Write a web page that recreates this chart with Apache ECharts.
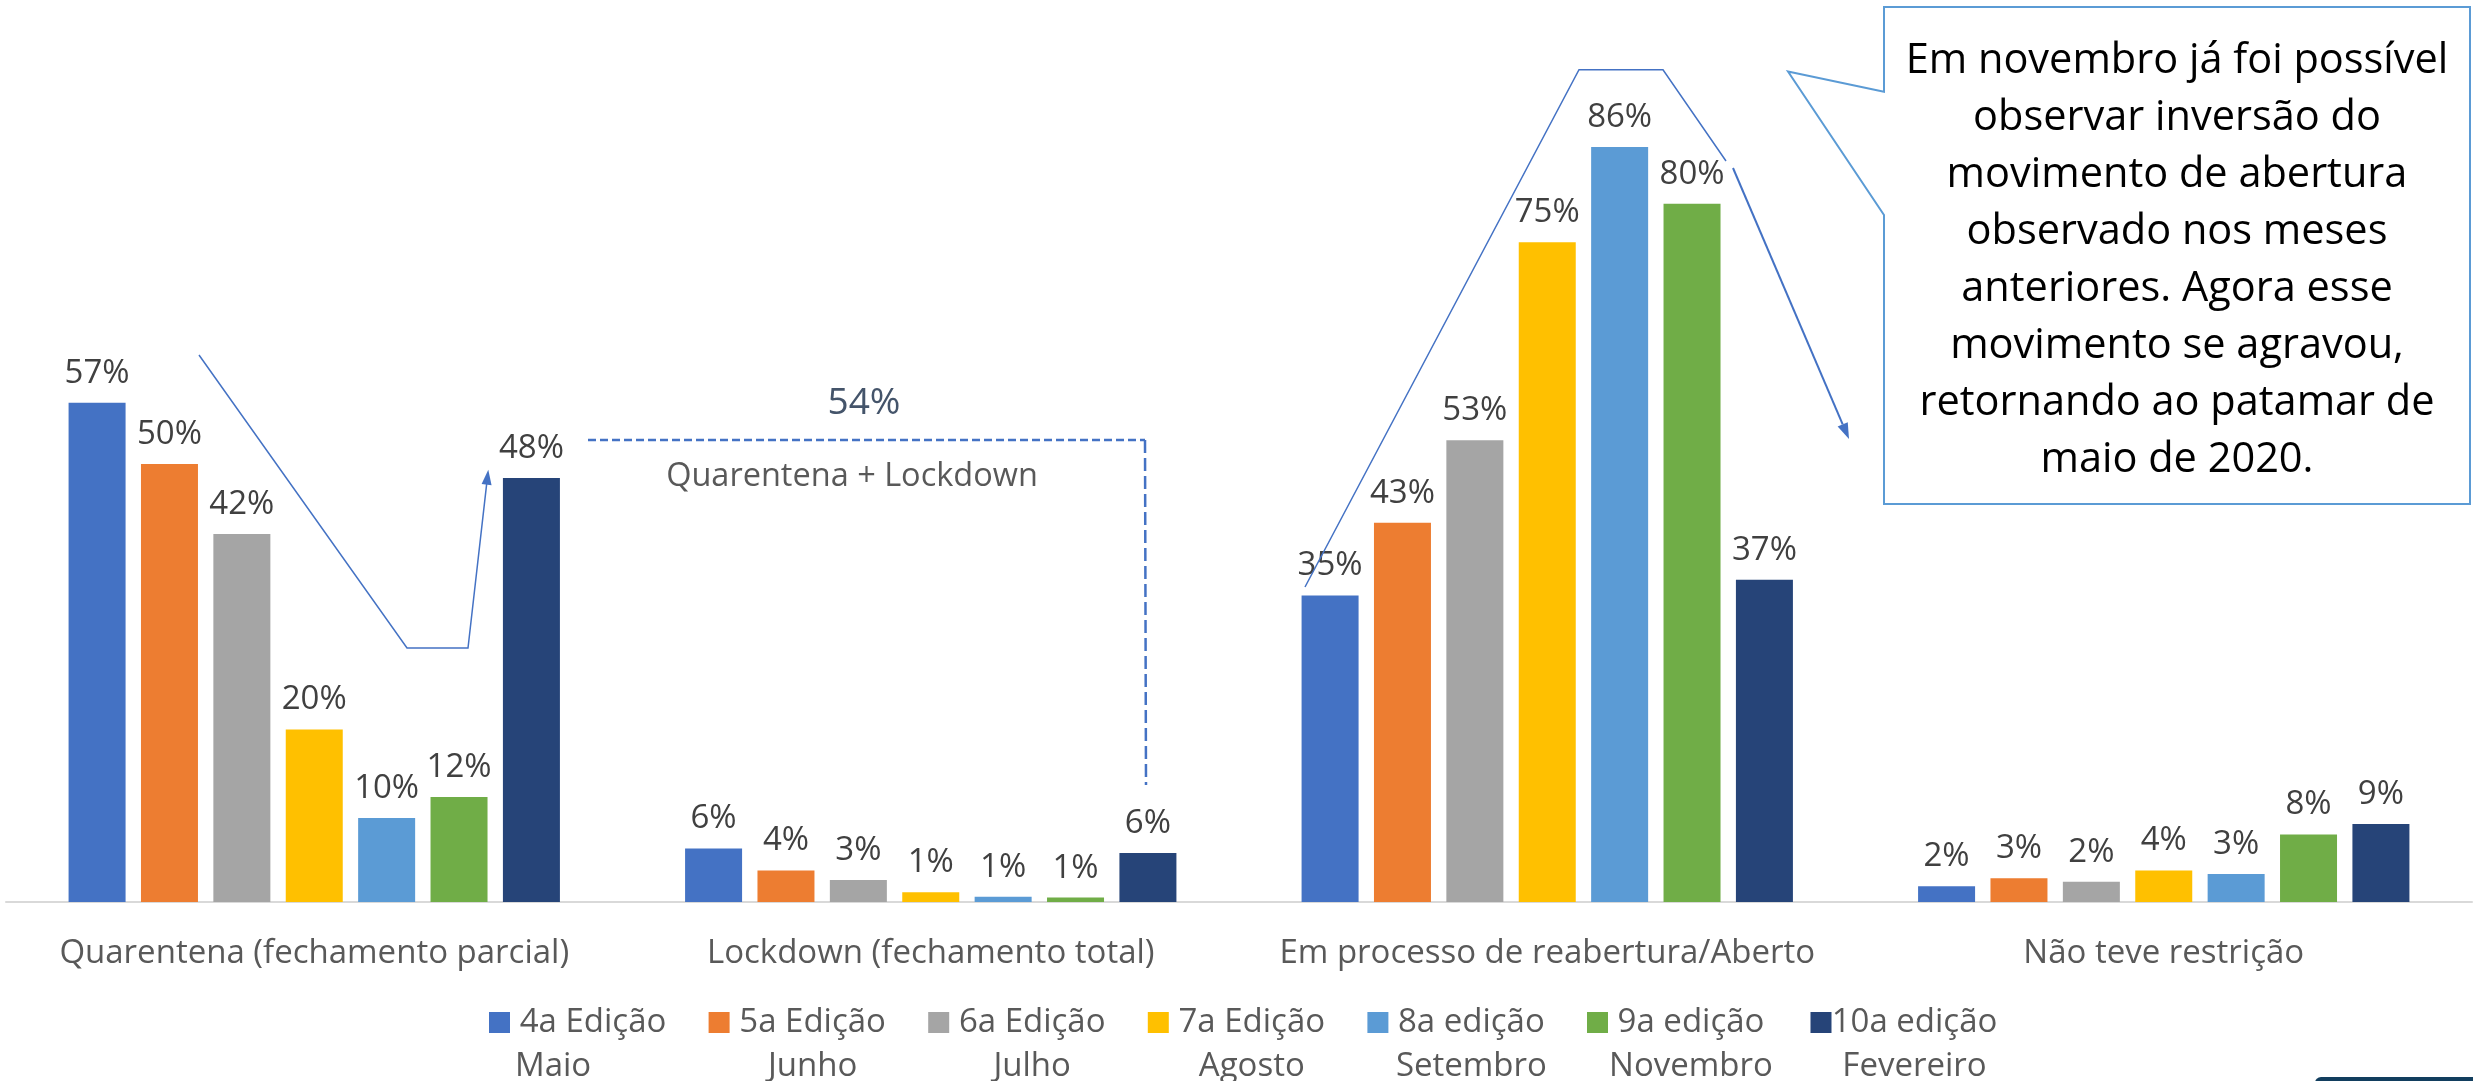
<!DOCTYPE html>
<html>
<head>
<meta charset="utf-8">
<script src="https://cdn.jsdelivr.net/npm/echarts@6/dist/echarts.min.js"></script>
<style>
html,body{margin:0;padding:0;background:#fff;}
#chart{width:2473px;height:1081px;}
</style>
</head>
<body>
<div id="chart"></div>
<script>
// ---- data ----
const categories = ['Quarentena (fechamento parcial)', 'Lockdown (fechamento total)', 'Em processo de reabertura/Aberto', 'Não teve restrição'];
const seriesNames = ['4a Edição Maio', '5a Edição Junho', '6a Edição Julho', '7a Edição Agosto', '8a edição Setembro', '9a edição Novembro', '10a edição Fevereiro'];
const ed4Maio      = [57.0, 6.1, 35.0, 1.8];
const ed5Junho     = [50.0, 3.6, 43.3, 2.7];
const ed6Julho     = [42.0, 2.5, 52.7, 2.3];
const ed7Agosto    = [19.7, 1.1, 75.3, 3.6];
const ed8Setembro  = [9.6, 0.6, 86.2, 3.2];
const ed9Novembro  = [12.0, 0.5, 79.7, 7.7];
const ed10Fevereiro= [48.4, 5.6, 36.8, 8.9];
const seriesValues = [ed4Maio, ed5Junho, ed6Julho, ed7Agosto, ed8Setembro, ed9Novembro, ed10Fevereiro];
const totalLabel = '54%';
const totalText = 'Quarentena + Lockdown';
const calloutText = ['Em novembro já foi possível', 'observar inversão do', 'movimento de abertura', 'observado nos meses', 'anteriores. Agora esse', 'movimento se agravou,', 'retornando ao patamar de', 'maio de 2020.'];

// ---- styles ----
const colors = ['#4472C4', '#ED7D31', '#A5A5A5', '#FFC000', '#5B9BD5', '#70AD47', '#264478'];
const FONT = '"Open Sans", "Noto Sans", sans-serif';
const lineBlue = '#4472C4';

const chart = echarts.init(document.getElementById('chart'), null, {renderer: 'canvas'});

function arrowHead(tip, from, len, half, color) {
  const dx = tip[0] - from[0], dy = tip[1] - from[1];
  const L = Math.sqrt(dx*dx + dy*dy);
  const ux = dx / L, uy = dy / L;
  const bx = tip[0] - ux*len, by = tip[1] - uy*len;
  const px = -uy*half, py = ux*half;
  return {type: 'polygon', z: 100, shape: {points: [tip, [bx+px, by+py], [bx-px, by-py]]}, style: {fill: color}};
}

const series = seriesNames.map((n, i) => ({
  name: n,
  type: 'bar',
  data: seriesValues[i],
  barWidth: 57,
  barGap: '27%',
  itemStyle: {color: colors[i]},
  label: {
    show: true, position: 'top', distance: 13,
    fontFamily: FONT, fontSize: 33, color: '#404040',
    formatter: p => Math.round(p.value) + '%'
  }
}));

const graphics = [
  // group 1 trend line with arrow
  {type: 'polyline', z: 100, shape: {points: [[199,355],[407,648],[468,648],[486.7,483.6]]}, style: {stroke: lineBlue, lineWidth: 1.5, fill: null}},
  arrowHead([488.3,469.7],[468,648],15,5,lineBlue),
  // dashed bracket
  {type: 'line', z: 100, shape: {x1: 588, y1: 440, x2: 1145, y2: 440}, style: {stroke: lineBlue, lineWidth: 2.5, lineDash: [8,4]}},
  {type: 'line', z: 100, shape: {x1: 1145, y1: 440, x2: 1146, y2: 785}, style: {stroke: lineBlue, lineWidth: 2.5, lineDash: [13,5]}},
  {type: 'text', z: 100, style: {x: 864, y: 403, text: totalLabel, fontFamily: FONT, fontSize: 37, fill: '#44546A', textAlign: 'center', textVerticalAlign: 'middle'}},
  {type: 'text', z: 100, style: {x: 852, y: 477, text: totalText, fontFamily: FONT, fontSize: 32.5, fill: '#595959', textAlign: 'center', textVerticalAlign: 'middle'}},
  // group 3 peak line with arrow
  {type: 'polyline', z: 100, shape: {points: [[1305,587],[1579,69.7],[1663,69.7],[1726,161]]}, style: {stroke: lineBlue, lineWidth: 1.5, fill: null}},
  {type: 'line', z: 100, shape: {x1: 1733, y1: 168, x2: 1842.7, y2: 424.3}, style: {stroke: lineBlue, lineWidth: 2}},
  arrowHead([1849,439],[1733,168],16,5.5,lineBlue),
  // callout
  {type: 'polygon', z: 90, shape: {points: [[1884,7],[2470,7],[2470,504],[1884,504],[1884,215],[1788,71.6],[1884,91.8]]}, style: {fill: '#fff', stroke: '#5B9BD5', lineWidth: 2}},
  {type: 'text', z: 100, style: {x: 2177, y: 261, text: calloutText.join('\n'), fontFamily: FONT, fontSize: 41.5, lineHeight: 57, fill: '#000', textAlign: 'center', textVerticalAlign: 'middle'}},
  // bottom-right decoration
  {type: 'rect', z: 100, shape: {x: 2315, y: 1077, width: 170, height: 12, r: 6}, style: {fill: '#123E5E'}}
];

const option = {
  backgroundColor: '#fff',
  animation: false,
  color: colors,
  grid: {left: 6, right: 1, top: 26, bottom: 179, containLabel: false},
  xAxis: {
    type: 'category', data: categories,
    axisLine: {lineStyle: {color: '#D9D9D9', width: 2}},
    axisTick: {show: false},
    axisLabel: {fontFamily: FONT, fontSize: 33, color: '#595959', margin: 35, interval: 0}
  },
  yAxis: {type: 'value', min: 0, max: 100, show: false, splitLine: {show: false}},
  legend: {
    left: 489, top: 1006, padding: 0,
    itemWidth: 21, itemHeight: 65, itemGap: 37.6,
    icon: 'path://M0,0L21,0L21,21L0,21Z M0,65L0.01,65L0,65Z',
    formatter: name => {
      const k = name.lastIndexOf(' ');
      const second = name.indexOf('Maio') >= 0 ? 'l' : 'a';
      return '{a|' + name.slice(0, k) + '}\n{' + second + '|' + name.slice(k + 1) + '}';
    },
    textStyle: {
      fontFamily: FONT, fontSize: 33, color: '#595959',
      rich: {
        a: {fontFamily: FONT, fontSize: 33, color: '#595959', width: 156, align: 'center', lineHeight: 44},
        l: {fontFamily: FONT, fontSize: 33, color: '#595959', width: 156, align: 'left', lineHeight: 44}
      }
    }
  },
  series: series,
  graphic: graphics
};
chart.setOption(option);
</script>
</body>
</html>
